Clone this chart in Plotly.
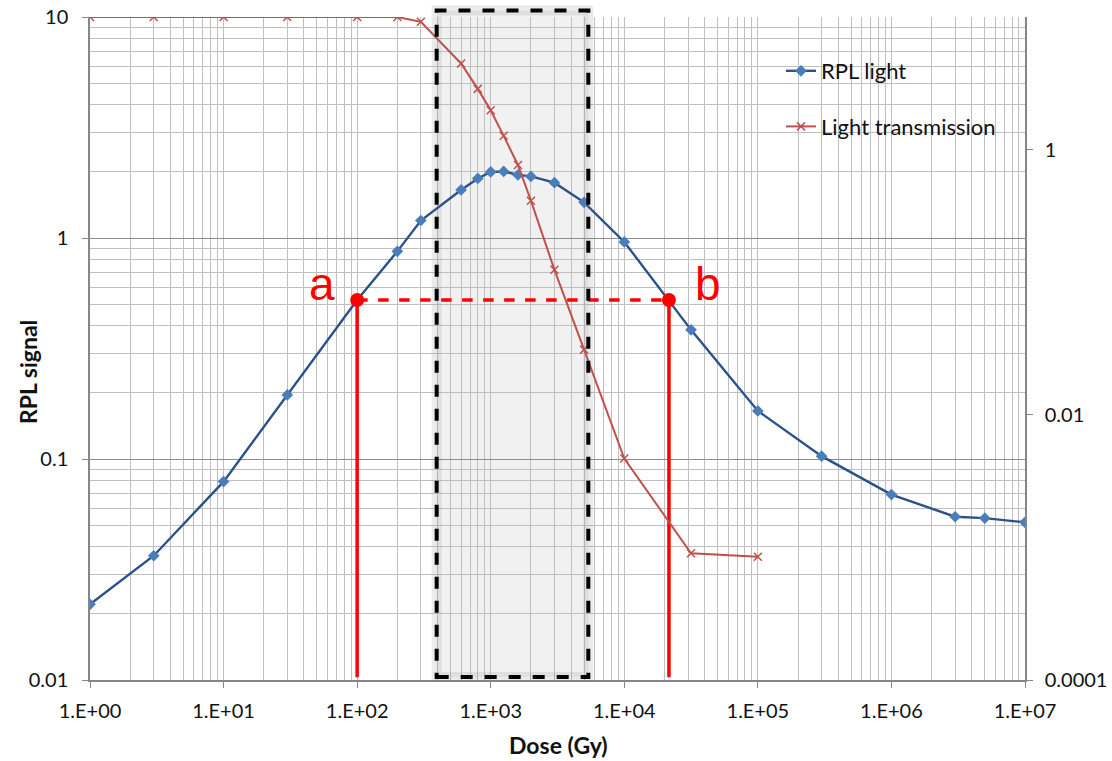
import plotly.graph_objects as go

# ---------------- data ----------------
rpl_dose = [1, 3, 10, 30, 100, 200, 300, 600, 800, 1000, 1250, 1600, 2000, 3000, 5000,
            10000, 31600, 100000, 300000, 1000000, 3000000, 5000000, 10000000]
rpl_signal = [0.022, 0.0365, 0.079, 0.195, 0.524, 0.87, 1.2, 1.65, 1.86, 1.99, 2.0, 1.93, 1.9,
              1.78, 1.45, 0.96, 0.384, 0.165, 0.103, 0.069, 0.0548, 0.054, 0.0517]

trans_dose = [1, 3, 10, 30, 100, 200, 300, 600, 800, 1000, 1250, 1600, 2000, 3000, 5000,
              10000, 31600, 100000]
trans_value = [10, 10, 10, 10, 10, 10, 9.2, 4.46, 2.87, 1.98, 1.27, 0.766, 0.412, 0.124, 0.031,
               0.00468, 0.000904, 0.00085]

x_tick_vals = [1, 10, 100, 1000, 10000, 100000, 1000000, 10000000]
x_tick_text = ["1.E+00", "1.E+01", "1.E+02", "1.E+03", "1.E+04", "1.E+05", "1.E+06", "1.E+07"]
y_tick_vals = [0.01, 0.1, 1, 10]
y_tick_text = ["0.01", "0.1", "1", "10"]
y2_tick_vals = [0.0001, 0.01, 1]
y2_tick_text = ["0.0001", "0.01", "1"]

# window of interest (shaded) and the a/b thresholds
window_dose = [394, 5380]
ab_dose = [100, 21600]
ab_level = 0.524
ab_labels = ["a", "b"]
line_floor = 0.0103

FONT = "Lato, 'Liberation Sans', sans-serif"
RED = "#FF0000"
BLUE_LINE = "#2B5189"
BLUE_MARK = "#4A7EBB"
TRANS_RED = "#C0504D"

OFF = 0  # page body margin removed via post_script
W, H = 1112 - OFF, 761 - OFF
L, T = 90 - OFF, 17 - OFF
R = W - (1025 - OFF)
B = H - (680 - OFF)
PW, PH = W - L - R, H - T - B


def px_x(px):
    return (px - OFF - L) / PW


def px_y(py):
    return (H - B - (py - OFF)) / PH


fig = go.Figure()

# threshold lines (a/b)
for d in ab_dose:
    fig.add_trace(go.Scatter(x=[d, d], y=[line_floor, ab_level], mode="lines",
                             line=dict(color=RED, width=3.5), showlegend=False,
                             hoverinfo="skip", yaxis="y"))
fig.add_trace(go.Scatter(x=ab_dose, y=[ab_level, ab_level], mode="lines",
                         line=dict(color=RED, width=3.5, dash="dash"), showlegend=False,
                         hoverinfo="skip", yaxis="y"))

fig.add_trace(go.Scatter(
    x=rpl_dose, y=rpl_signal, mode="lines+markers", name="RPL light",
    line=dict(color=BLUE_LINE, width=2.4),
    marker=dict(symbol="diamond", size=9, color=BLUE_MARK, line=dict(width=0)),
    legendgroup="g1", yaxis="y"))

fig.add_trace(go.Scatter(
    x=trans_dose, y=trans_value, mode="lines+markers", name="Light transmission",
    line=dict(color=TRANS_RED, width=2),
    marker=dict(symbol="x-thin", size=8, color=TRANS_RED, line=dict(width=1.5, color=TRANS_RED)),
    legendgroup="g2", yaxis="y2"))

# a / b dots
fig.add_trace(go.Scatter(x=ab_dose, y=[ab_level, ab_level], mode="markers",
                         marker=dict(color=RED, size=14), showlegend=False,
                         hoverinfo="skip", yaxis="y"))

rect_y0, rect_y1 = px_y(677), px_y(10.5)
shapes = [
    dict(type="rect", xref="x", yref="paper", x0=window_dose[0], x1=window_dose[1],
         y0=rect_y0, y1=rect_y1, fillcolor="#F1F1F1", line=dict(width=0), layer="below"),
    dict(type="rect", xref="x", yref="paper", x0=window_dose[0], x1=window_dose[1],
         y0=rect_y0, y1=rect_y1, line=dict(color="rgba(120,120,120,0.15)", width=10),
         layer="above"),
    dict(type="rect", xref="x", yref="paper", x0=window_dose[0], x1=window_dose[1],
         y0=rect_y0, y1=rect_y1, line=dict(color="black", width=4, dash="dash"),
         layer="above"),
]

annotations = []
label_px = [322, 708]
for lab, px in zip(ab_labels, label_px):
    annotations.append(dict(text=lab, xref="paper", yref="paper",
                            x=px_x(px), y=px_y(284),
                            xanchor="center", yanchor="middle", showarrow=False,
                            font=dict(family="'Liberation Sans', Arial, sans-serif",
                                      size=46, color=RED)))
# axis titles
annotations.append(dict(text="<b>RPL signal</b>", xref="paper", yref="paper",
                        x=px_x(28), y=px_y(372), xanchor="center", yanchor="middle",
                        textangle=-90, showarrow=False,
                        font=dict(family=FONT, size=23, color="#111")))
annotations.append(dict(text="<b>Dose (Gy)</b>", xref="paper", yref="paper",
                        x=px_x(558), y=px_y(745), xanchor="center", yanchor="middle",
                        showarrow=False, font=dict(family=FONT, size=23, color="#111")))

fig.update_layout(
    width=W, height=H,
    margin=dict(l=L, r=R, t=T, b=B),
    paper_bgcolor="white", plot_bgcolor="white",
    font=dict(family=FONT, size=20, color="#111"),
    shapes=shapes, annotations=annotations,
    showlegend=True,
    legend=dict(x=px_x(781), y=px_y(50), xanchor="left", yanchor="top",
                bgcolor="rgba(0,0,0,0)", font=dict(family=FONT, size=22, color="#111"),
                tracegroupgap=24, traceorder="grouped", itemwidth=30),
    xaxis=dict(type="log", range=[0, 7], tickvals=x_tick_vals, ticktext=x_tick_text,
               showgrid=True, gridcolor="#BFBFBF", gridwidth=1,
               minor=dict(showgrid=True, gridcolor="#BFBFBF", gridwidth=1, dtick="D1", ticks=""),
               showline=True, linecolor="#868686", linewidth=1.5,
               ticks="outside", ticklen=6, tickcolor="#868686",
               ticklabelstandoff=6, automargin=False, zeroline=False,
               ticklabeloverflow="allow"),
    yaxis=dict(type="log", range=[-2, 1], tickvals=y_tick_vals, ticktext=y_tick_text,
               showgrid=True, gridcolor="#8C8C8C", gridwidth=1,
               minor=dict(showgrid=True, gridcolor="#BFBFBF", gridwidth=1, dtick="D1", ticks=""),
               showline=True, linecolor="#868686", linewidth=1.5,
               ticks="outside", ticklen=6, tickcolor="#868686",
               ticklabelstandoff=10, automargin=False, zeroline=False,
               ticklabeloverflow="allow"),
    yaxis2=dict(type="log", range=[-4, 1], tickvals=y2_tick_vals, ticktext=y2_tick_text,
                overlaying="y", side="right", anchor="x",
                showgrid=False, showline=True, linecolor="#868686", linewidth=1.5,
                ticks="outside", ticklen=6, tickcolor="#868686",
                ticklabelstandoff=8, automargin=False, zeroline=False,
                ticklabeloverflow="allow"),
)

fig.write_html("out.html", config={"displayModeBar": False},
               post_script="document.body.style.margin='0px';document.body.style.overflow='hidden';")
